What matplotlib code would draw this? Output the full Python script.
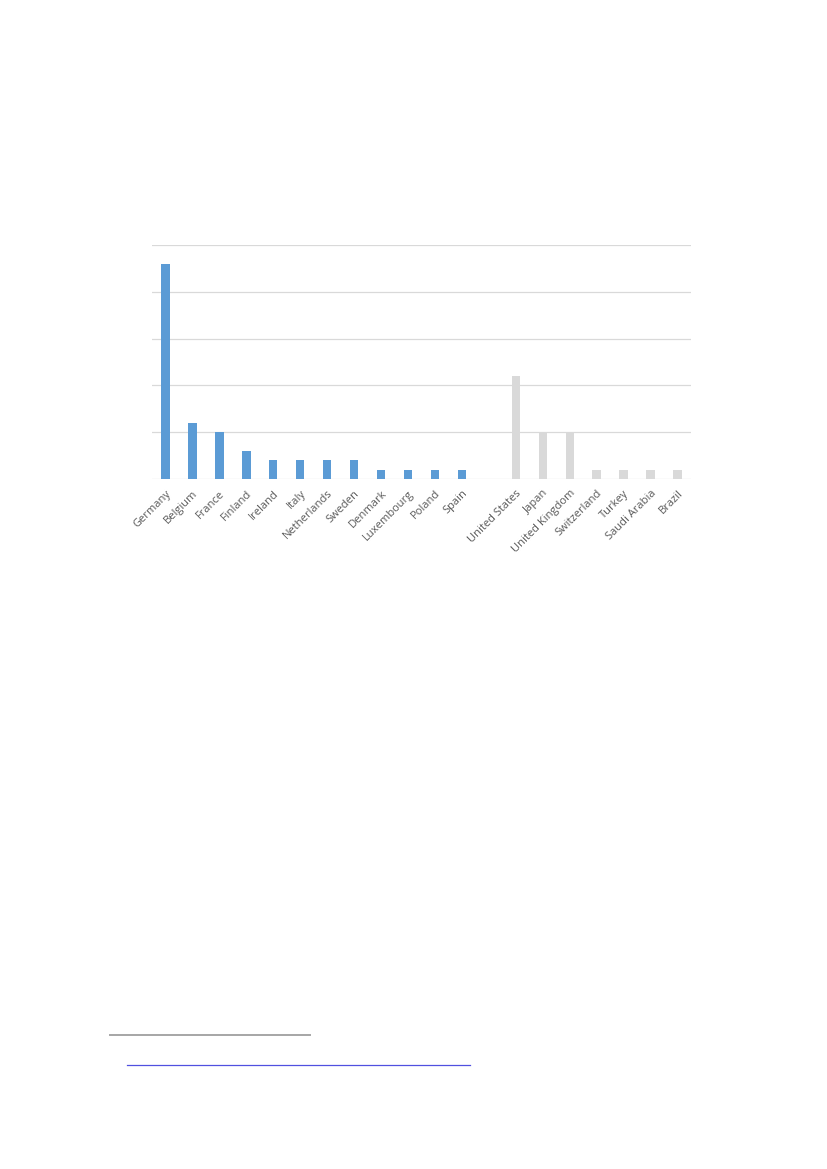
import matplotlib
matplotlib.use("Agg")
import matplotlib.pyplot as plt
from matplotlib.lines import Line2D

eu_countries = ["Germany", "Belgium", "France", "Finland", "Ireland", "Italy",
                "Netherlands", "Sweden", "Denmark", "Luxembourg", "Poland", "Spain"]
eu_values = [23, 6, 5, 3, 2, 2, 2, 2, 1, 1, 1, 1]
other_countries = ["United States", "Japan", "United Kingdom", "Switzerland",
                   "Turkey", "Saudi Arabia", "Brazil"]
other_values = [11, 5, 5, 1, 1, 1, 1]
y_ticks = [0, 5, 10, 15, 20, 25]

plt.rcParams['font.family'] = ['Open Sans', 'DejaVu Sans']

fig = plt.figure(figsize=(8.27, 11.69), dpi=100)
ax = fig.add_axes([152/827, 1 - 479/1169, (691-152)/827, (479-245)/1169])

eu_x = list(range(len(eu_countries)))
other_x = [len(eu_countries) + 1 + i for i in range(len(other_countries))]

ax.bar(eu_x, eu_values, width=0.31, color="#5B9BD5", zorder=3)
ax.bar(other_x, other_values, width=0.31, color="#D9D9D9", zorder=3)

ax.set_xlim(-0.5, other_x[-1] + 0.5)
ax.set_ylim(0, 25)
ax.set_yticks(y_ticks)
ax.yaxis.grid(True, color="#D9D9D9", linewidth=0.9)
ax.set_axisbelow(True)
ax.tick_params(axis='y', left=False, labelleft=False)
ax.tick_params(axis='x', bottom=False, pad=3)
for s in ax.spines.values():
    s.set_visible(False)

ax.set_xticks(eu_x + other_x)
ax.set_xticklabels(eu_countries + other_countries, rotation=45, ha='right',
                   rotation_mode='anchor', fontsize=8, color="#595959")

# footnote separator and link underline
fig.add_artist(Line2D([110/827, 310/827], [1 - 1035/1169]*2, color="#A6A6A6", linewidth=1.4))
fig.add_artist(Line2D([127/827, 470/827], [1 - 1065/1169]*2, color="#5050E0", linewidth=0.9))

fig.savefig("out.png", dpi=100)
